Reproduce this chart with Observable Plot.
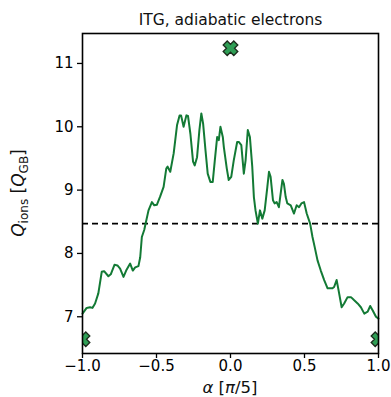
<!DOCTYPE html>
<html><head><meta charset="utf-8">
<script src="https://cdn.jsdelivr.net/npm/d3@7"></script>
<script src="https://cdn.jsdelivr.net/npm/@observablehq/plot@0.6"></script>
<style>body{margin:0;background:#fff}</style>
</head><body><div id="chart"></div>
<script>
const alpha = [-1.0,-0.972,-0.949,-0.933,-0.915,-0.893,-0.870,-0.854,-0.825,-0.809,-0.784,-0.764,-0.746,-0.723,-0.705,-0.678,-0.660,-0.644,-0.622,-0.610,-0.599,-0.583,-0.569,-0.554,-0.531,-0.515,-0.497,-0.475,-0.452,-0.434,-0.425,-0.407,-0.384,-0.361,-0.344,-0.334,-0.317,-0.298,-0.287,-0.271,-0.253,-0.242,-0.226,-0.210,-0.197,-0.185,-0.169,-0.154,-0.136,-0.120,-0.106,-0.090,-0.079,-0.068,-0.052,-0.045,-0.025,-0.012,0.005,0.022,0.045,0.056,0.073,0.090,0.102,0.117,0.131,0.147,0.158,0.169,0.185,0.199,0.215,0.231,0.249,0.260,0.271,0.287,0.298,0.312,0.327,0.351,0.361,0.373,0.384,0.407,0.429,0.447,0.463,0.479,0.497,0.515,0.538,0.554,0.569,0.588,0.610,0.633,0.656,0.689,0.700,0.717,0.730,0.751,0.768,0.791,0.814,0.836,0.859,0.881,0.904,0.927,0.944,0.961,0.983,1.0];
const qIons = [7.05,7.14,7.15,7.14,7.21,7.37,7.71,7.72,7.64,7.67,7.82,7.81,7.76,7.63,7.73,7.84,7.73,7.78,7.80,7.94,8.26,8.37,8.52,8.68,8.81,8.76,8.77,8.90,9.05,9.34,9.37,9.29,9.58,10.03,10.18,10.18,10.00,10.18,10.17,9.89,9.45,9.39,9.52,9.95,10.21,10.05,9.63,9.26,9.13,9.13,9.47,9.84,9.79,10.00,9.84,9.68,9.34,9.16,9.21,9.47,9.76,9.76,9.71,9.26,9.47,9.95,9.84,9.37,8.89,8.68,8.47,8.68,8.55,8.68,9.05,9.29,9.21,8.84,8.79,8.81,8.73,9.16,9.10,8.89,8.79,8.76,8.63,8.76,8.73,8.79,8.81,8.63,8.47,8.26,8.10,7.89,7.73,7.58,7.45,7.45,7.47,7.58,7.42,7.15,7.21,7.31,7.31,7.26,7.21,7.15,7.05,7.08,7.17,7.10,7.00,6.97];
const markerAlpha = [-1, 0, 1];
const markerQ = [6.645, 11.24, 6.645];
const meanQ = [8.47];
const xTicks = [-1, -0.5, 0, 0.5, 1];
const yTicks = [7, 8, 9, 10, 11];
const titleText = "ITG, adiabatic electrons";

const series = alpha.map((a, i) => ({a, q: qIons[i]}));
const markers = markerAlpha.map((a, i) => ({a, q: markerQ[i]}));

const filledX = {
  draw(ctx, size) {
    const r = Math.sqrt(size / Math.PI);
    const L = r, w = r * 0.38;
    const pts = [[-w,-L],[w,-L],[w,-w],[L,-w],[L,w],[w,w],[w,L],[-w,L],[-w,w],[-L,w],[-L,-w],[-w,-w]];
    const c = Math.SQRT1_2;
    pts.forEach(([x, y], i) => {
      const X = (x - y) * c, Y = (x + y) * c;
      if (i === 0) ctx.moveTo(X, Y); else ctx.lineTo(X, Y);
    });
    ctx.closePath();
  }
};

const fmt = d3.format(".1f");
const chart = Plot.plot({
  width: 391,
  height: 397,
  marginLeft: 82,
  marginRight: 13,
  marginTop: 33,
  marginBottom: 44,
  style: {fontFamily: "DejaVu Sans", fontSize: "15px", color: "#000", background: "#fff"},
  x: {domain: [-1, 1]},
  y: {domain: [6.42, 11.473]},
  marks: [
    Plot.axisX({ticks: xTicks, tickFormat: fmt, tickSize: 5, tickPadding: 2, label: null, fontSize: 15, strokeWidth: 1.3}),
    Plot.axisY({ticks: yTicks, tickFormat: d => String(d), tickSize: 5, tickPadding: 4, label: null, fontSize: 15, strokeWidth: 1.3}),
    Plot.ruleY(meanQ, {stroke: "#000", strokeWidth: 1.8, strokeDasharray: "6,4"}),
    Plot.line(series, {x: "a", y: "q", stroke: "#137a35", strokeWidth: 2}),
    Plot.dot(markers, {x: "a", y: "q", symbol: filledX, r: 7.5, fill: "#2f9e55", stroke: "#1d2b1d", strokeWidth: 1.3, clip: "frame"}),
    Plot.frame({stroke: "#000", strokeWidth: 1.6}),
    Plot.text([titleText], {frameAnchor: "top", dy: -20, fontSize: 15.5, fill: "#111"})
  ]
});

const svg = d3.select(chart);
svg.style("overflow", "visible");
// x label
const xl = svg.append("text")
  .attr("x", 230).attr("y", 393)
  .attr("text-anchor", "middle")
  .attr("font-family", "DejaVu Sans").attr("font-size", 16.5).attr("fill", "#111");
xl.append("tspan").attr("font-style", "italic").text("α");
xl.append("tspan").text(" [");
xl.append("tspan").attr("font-style", "italic").text("π");
xl.append("tspan").text("/5]");
// y label
const yl = svg.append("text")
  .attr("transform", "translate(24,193) rotate(-90)")
  .attr("text-anchor", "middle")
  .attr("font-family", "DejaVu Sans").attr("font-size", 17).attr("fill", "#111");
yl.append("tspan").attr("font-style", "italic").text("Q");
yl.append("tspan").attr("font-size", 12).attr("dy", 4).text("ions");
yl.append("tspan").attr("dy", -4).text(" [");
yl.append("tspan").attr("font-style", "italic").text("Q");
yl.append("tspan").attr("font-size", 12).attr("dy", 4).text("GB");
yl.append("tspan").attr("dy", -4).text("]");

document.getElementById("chart").appendChild(chart);
</script>
</body></html>
